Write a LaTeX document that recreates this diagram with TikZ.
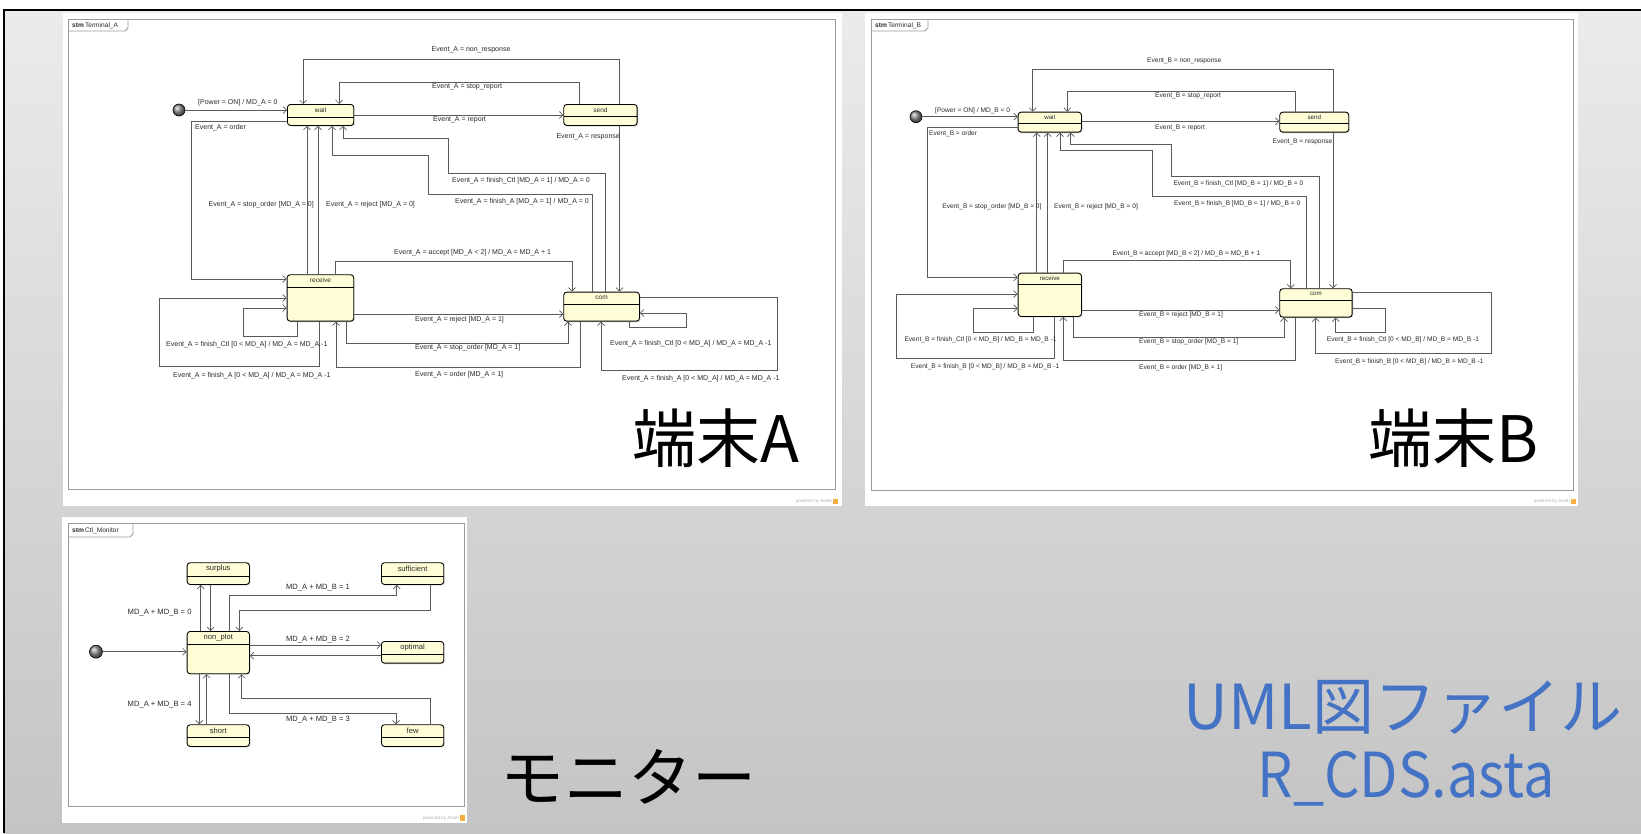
\documentclass[tikz,border=0pt]{standalone}
\usepackage{fontspec}
\setmainfont{Liberation Sans}
\newfontfamily\cjk{Noto Sans CJK JP}
\usetikzlibrary{arrows.meta,shadows}
\definecolor{bgtop}{HTML}{EBEBEB}
\definecolor{bgbot}{HTML}{C4C4C4}
\definecolor{stfill}{HTML}{FFFDD6}
\definecolor{lncol}{HTML}{5A5A5A}
\definecolor{frcol}{HTML}{9A9A9A}
\definecolor{txcol}{HTML}{2A2A2A}
\definecolor{bluet}{HTML}{4472C4}
\definecolor{astahor}{HTML}{F5B041}
\tikzset{
  st/.style={draw=black, line width=0.9pt, rounded corners=3pt, fill=stfill, inner sep=0pt, anchor=north west,
    drop shadow={shadow xshift=1.2pt, shadow yshift=-1.2pt, opacity=0.25}},
  stA/.style={font=\fontsize{6.5}{7}\selectfont, inner sep=0pt, text=txcol},
  stB/.style={font=\fontsize{6.2}{7}\selectfont, inner sep=0pt, text=txcol},
  stC/.style={font=\fontsize{7.6}{8}\selectfont, inner sep=0pt, text=txcol},
  tr/.style={draw=lncol, line width=0.7pt, -{Straight Barb[length=3.5pt,width=7pt]}},
  lbA/.style={font=\fontsize{7}{8}\selectfont, inner sep=0pt, text=txcol},
  lbB/.style={font=\fontsize{6.6}{7.5}\selectfont, inner sep=0pt, text=txcol},
  lbC/.style={font=\fontsize{7.6}{8}\selectfont, inner sep=0pt, text=txcol},
  frame/.style={draw=frcol, line width=0.8pt},
  tab/.style={font=\fontsize{6.6}{7.5}\selectfont, inner sep=0pt, text=txcol, anchor=west},
  pw/.style={font=\fontsize{4.5}{5}\selectfont, inner sep=0pt, text=black!30, anchor=east},
  init/.style={circle, draw=black, line width=0.6pt, shading=ball, ball color=black!45, minimum size=12pt, inner sep=0pt},
  big/.style={font=\cjk\fontsize{64}{70}\selectfont, inner sep=0pt, anchor=base},
  bigblue/.style={font=\cjk\fontsize{62}{68}\selectfont, inner sep=0pt, anchor=base, text=bluet}
}
\newcommand\mkstate[8]{%
  \node[st, minimum width=#4pt, minimum height=#5pt,
    path picture={\draw[line width=0.5pt] ([yshift=-#6pt]path picture bounding box.north west) -- ([yshift=-#6pt]path picture bounding box.north east);}] (#1) at (#2,#3) {};
  \node[#8] (#1-t) at ([yshift={-0.5*#6pt}]#1.north) {#7};
}
\begin{document}
\begin{tikzpicture}[x=1pt, y=-1pt]
\useasboundingbox (0,0) rectangle (1641,833);
% background
\fill[white] (0,0) rectangle (1641,833);
\shade[top color=bgtop, bottom color=bgbot] (4,10) rectangle (1641,833);
\draw[black, line width=2pt] (1641,10) -- (4,10) -- (4,833);

% ---------------- panels ----------------
\fill[white] (63,13) rectangle (842,506);
\draw[frame] (68,19) rectangle (835,489);
\draw[frame] (68,31) -- (125,31) -- (128,28) -- (128,19);
\node[tab] (tabA) at (72,25.5) {\textbf{stm}\,Terminal\_A};
\node[pw] (pwA) at (832,501.5) {powered by Astah};
\fill[astahor] (833,498.5) rectangle (838,504);

\fill[white] (865,13) rectangle (1578,506);
\draw[frame] (871,19) rectangle (1573,490);
\draw[frame] (871,31) -- (925,31) -- (928,28) -- (928,19);
\node[tab] (tabB) at (875,25.5) {\textbf{stm}\,Terminal\_B};
\node[pw] (pwB) at (1570,501.5) {powered by Astah};
\fill[astahor] (1571,498.5) rectangle (1576,504);

\fill[white] (62,517) rectangle (467,823);
\draw[frame] (68,523) rectangle (464,806);
\draw[frame] (68,537) -- (130,537) -- (133,534) -- (133,523);
\node[tab] (tabC) at (72,530.5) {\textbf{stm}\,Ctl\_Monitor};
\node[pw] (pwC) at (459,818) {powered by Astah};
\fill[astahor] (460,815) rectangle (465,820.5);

% ---------------- Terminal A ----------------
\node[init] (iA) at (179,110) {};
\mkstate{waitA}{287}{104}{66.3}{21}{12.5}{wait}{stA}
\mkstate{sendA}{563.3}{104}{73.4}{21}{12}{send}{stA}
\mkstate{recvA}{286.7}{274.3}{66.6}{46.4}{12.4}{receive}{stA}
\mkstate{comA}{563.3}{291.7}{75.7}{29}{11.6}{com}{stA}

\draw[tr] (iA) -- (iA -| waitA.west);
\draw[tr] (waitA.west |- 0,121) -| (191,279) -- (recvA.west |- 0,279);
\draw[tr] (sendA.north -| 619.5,0) |- (303,59) -- (waitA.north -| 303,0);
\draw[tr] (sendA.north -| 579,0) |- (339,82) -- (waitA.north -| 339,0);
\draw[tr] (waitA.east |- 0,115) -- (sendA.west |- 0,115);
\draw[tr] (sendA.south -| 619.5,0) -- (comA.north -| 619.5,0);
\draw[tr] (comA.north -| 605,0) |- (448,173) |- (343,138) -- (waitA.south -| 343,0);
\draw[tr] (comA.north -| 592,0) |- (428,194) |- (332,155) -- (waitA.south -| 332,0);
\draw[tr] (recvA.north -| 307,0) -- (waitA.south -| 307,0);
\draw[tr] (recvA.north -| 318,0) -- (waitA.south -| 318,0);
\draw[tr] (recvA.north -| 335,0) |- (572,261) -- (comA.north -| 572,0);
\draw[tr] (recvA.east |- 0,314) -- (comA.west |- 0,314);
\draw[tr] (recvA.south -| 346,0) |- (568,343) -- (comA.south -| 568,0);
\draw[tr] (comA.south -| 580,0) |- (336,367) -- (recvA.south -| 336,0);
\draw[tr] (recvA.south -| 297,0) |- (243,336) |- (recvA.west |- 0,308);
\draw[tr] (recvA.south -| 319,0) |- (159,366) |- (recvA.west |- 0,298);
\draw[tr] (comA.south -| 629,0) |- (686,327) |- (comA.east |- 0,313);
\draw[tr] (comA.east |- 0,297) -| (777,370) -| (comA.south -| 601,0);

\node[lbA, anchor=west] (lA1) at (198,103) {[Power = ON] / MD\_A = 0};
\node[lbA, anchor=west] (lA2) at (195,128) {Event\_A = order};
\node[lbA] (lA3) at (471,50) {Event\_A = non\_response};
\node[lbA, anchor=west] (lA4) at (432,87) {Event\_A = stop\_report};
\node[lbA, anchor=west] (lA5) at (433,120) {Event\_A = report};
\node[lbA, anchor=east] (lA6) at (620,137) {Event\_A = response};
\node[lbA, anchor=west] (lA7) at (452,181) {Event\_A = finish\_Ctl [MD\_A = 1] / MD\_A = 0};
\node[lbA, anchor=west] (lA8) at (455,202) {Event\_A = finish\_A [MD\_A = 1] / MD\_A = 0};
\node[lbA, anchor=east] (lA9) at (314,205) {Event\_A = stop\_order [MD\_A = 0]};
\node[lbA, anchor=west] (lA10) at (326,205) {Event\_A = reject [MD\_A = 0]};
\node[lbA, anchor=west] (lA11) at (394,253) {Event\_A = accept [MD\_A < 2] / MD\_A = MD\_A + 1};
\node[lbA, anchor=west] (lA12) at (415,320) {Event\_A = reject [MD\_A = 1]};
\node[lbA, anchor=west] (lA13) at (415,347.5) {Event\_A = stop\_order [MD\_A = 1]};
\node[lbA, anchor=west] (lA14) at (415,375) {Event\_A = order [MD\_A = 1]};
\node[lbA, anchor=west] (lA15) at (166,345) {Event\_A = finish\_Ctl [0 < MD\_A] / MD\_A = MD\_A -1};
\node[lbA, anchor=west] (lA16) at (173,376) {Event\_A = finish\_A [0 < MD\_A] / MD\_A = MD\_A -1};
\node[lbA, anchor=west] (lA17) at (610,343.5) {Event\_A = finish\_Ctl [0 < MD\_A] / MD\_A = MD\_A -1};
\node[lbA, anchor=west] (lA18) at (622,379) {Event\_A = finish\_A [0 < MD\_A] / MD\_A = MD\_A -1};

% ---------------- Terminal B ----------------
\node[init] (iB) at (916,116.7) {};
\mkstate{waitB}{1017.7}{111.7}{63.3}{20}{10.6}{wait}{stB}
\mkstate{sendB}{1279.3}{111.7}{69}{20}{11.3}{send}{stB}
\mkstate{recvB}{1017.7}{272.7}{63.3}{43.3}{10.6}{receive}{stB}
\mkstate{comB}{1279.3}{288.3}{72.4}{28.4}{11.7}{com}{stB}

\draw[tr] (iB) -- (iB -| waitB.west);
\draw[tr] (waitB.west |- 0,127.3) -| (927.7,277.3) -- (recvB.west |- 0,277.3);
\draw[tr] (sendB.north -| 1333,0) |- (1032.7,69) -- (waitB.north -| 1032.7,0);
\draw[tr] (sendB.north -| 1295,0) |- (1067.3,91.3) -- (waitB.north -| 1067.3,0);
\draw[tr] (waitB.east |- 0,121.3) -- (sendB.west |- 0,121.3);
\draw[tr] (sendB.south -| 1333,0) -- (comB.north -| 1333,0);
\draw[tr] (comB.north -| 1319,0) |- (1171.7,176.7) |- (1070.7,144) -- (waitB.south -| 1070.7,0);
\draw[tr] (comB.north -| 1306,0) |- (1152.7,196.7) |- (1060,150) -- (waitB.south -| 1060,0);
\draw[tr] (recvB.north -| 1036.7,0) -- (waitB.south -| 1036.7,0);
\draw[tr] (recvB.north -| 1047.7,0) -- (waitB.south -| 1047.7,0);
\draw[tr] (recvB.north -| 1063.3,0) |- (1290.7,260) -- (comB.north -| 1290.7,0);
\draw[tr] (recvB.east |- 0,310) -- (comB.west |- 0,310);
\draw[tr] (recvB.south -| 1073.3,0) |- (1284,337.3) -- (comB.south -| 1284,0);
\draw[tr] (comB.south -| 1295.7,0) |- (1063.3,360.7) -- (recvB.south -| 1063.3,0);
\draw[tr] (recvB.south -| 1033.3,0) |- (973.3,332.7) |- (recvB.west |- 0,308.3);
\draw[tr] (recvB.south -| 1054.3,0) |- (896.7,358.3) |- (recvB.west |- 0,294);
\draw[tr] (comB.east |- 0,308.3) -| (1385.7,332.3) -| (comB.south -| 1335.7,0);
\draw[tr] (comB.east |- 0,292.3) -| (1491,353.3) -| (comB.south -| 1315.7,0);

\node[lbB, anchor=west] (lB1) at (935,110.7) {[Power = ON] / MD\_B = 0};
\node[lbB, anchor=west] (lB2) at (929,133.3) {Event\_B = order};
\node[lbB] (lB3) at (1184.3,60.7) {Event\_B = non\_response};
\node[lbB, anchor=west] (lB4) at (1155,95.7) {Event\_B = stop\_report};
\node[lbB, anchor=west] (lB5) at (1155,128) {Event\_B = report};
\node[lbB, anchor=east] (lB6) at (1332.5,142.3) {Event\_B = response};
\node[lbB, anchor=west] (lB7) at (1173.3,184) {Event\_B = finish\_Ctl [MD\_B = 1] / MD\_B = 0};
\node[lbB, anchor=west] (lB8) at (1174,204) {Event\_B = finish\_B [MD\_B = 1] / MD\_B = 0};
\node[lbB, anchor=east] (lB9) at (1041.7,206.7) {Event\_B = stop\_order [MD\_B = 0]};
\node[lbB, anchor=west] (lB10) at (1054,206.7) {Event\_B = reject [MD\_B = 0]};
\node[lbB, anchor=west] (lB11) at (1112.3,253.3) {Event\_B = accept [MD\_B < 2] / MD\_B = MD\_B + 1};
\node[lbB, anchor=west] (lB12) at (1139,315) {Event\_B = reject [MD\_B = 1]};
\node[lbB, anchor=west] (lB13) at (1139,341.7) {Event\_B = stop\_order [MD\_B = 1]};
\node[lbB, anchor=west] (lB14) at (1139,367.3) {Event\_B = order [MD\_B = 1]};
\node[lbB, anchor=west] (lB15) at (904.3,340) {Event\_B = finish\_Ctl [0 < MD\_B] / MD\_B = MD\_B -1};
\node[lbB, anchor=west] (lB16) at (910.7,366.7) {Event\_B = finish\_B [0 < MD\_B] / MD\_B = MD\_B -1};
\node[lbB, anchor=west] (lB17) at (1326.7,340) {Event\_B = finish\_Ctl [0 < MD\_B] / MD\_B = MD\_B -1};
\node[lbB, anchor=west] (lB18) at (1335,361.7) {Event\_B = finish\_B [0 < MD\_B] / MD\_B = MD\_B -1};

% ---------------- Ctl_Monitor ----------------
\node[init, minimum size=13pt] (iC) at (96,651.7) {};
\mkstate{nonplot}{186.7}{631}{62.3}{42.3}{13}{non\_plot}{stC}
\mkstate{surplus}{186.7}{562.3}{62.3}{21.7}{13.4}{surplus}{stC}
\mkstate{sufficient}{381}{562.3}{62.3}{21.7}{13.4}{sufficient}{stC}
\mkstate{optimal}{381}{641}{62.3}{21.7}{12.3}{optimal}{stC}
\mkstate{short}{186.7}{724.3}{62.3}{21.7}{12.4}{short}{stC}
\mkstate{few}{381}{724.3}{62.3}{21.7}{12.4}{few}{stC}

\draw[tr] (iC) -- (iC -| nonplot.west);
\draw[tr] (nonplot.north -| 200.7,0) -- (surplus.south -| 200.7,0);
\draw[tr] (surplus.south -| 210.7,0) -- (nonplot.north -| 210.7,0);
\draw[tr] (nonplot.north -| 229,0) |- (396.7,595) -- (sufficient.south -| 396.7,0);
\draw[tr] (sufficient.south -| 430,0) |- (239.3,610) -- (nonplot.north -| 239.3,0);
\draw[tr] (nonplot.east |- 0,645) -- (optimal.west |- 0,645);
\draw[tr] (optimal.west |- 0,655.7) -- (nonplot.east |- 0,655.7);
\draw[tr] (nonplot.south -| 199.3,0) -- (short.north -| 199.3,0);
\draw[tr] (short.north -| 206.7,0) -- (nonplot.south -| 206.7,0);
\draw[tr] (nonplot.south -| 229,0) |- (396,713.3) -- (few.north -| 396,0);
\draw[tr] (few.north -| 430,0) |- (241.7,698.3) -- (nonplot.south -| 241.7,0);

\node[lbC, anchor=east] (lC1) at (191.7,612.7) {MD\_A + MD\_B = 0};
\node[lbC] (lC2) at (318,587.7) {MD\_A + MD\_B = 1};
\node[lbC] (lC3) at (318,639.3) {MD\_A + MD\_B = 2};
\node[lbC, anchor=east] (lC4) at (191.7,704.3) {MD\_A + MD\_B = 4};
\node[lbC] (lC5) at (318,719.3) {MD\_A + MD\_B = 3};

% ---------------- big texts ----------------
\node[big] (tA) at (716,462) {端末A};
\node[big] (tB) at (1454,462) {端末B};
\node[big] (tC) at (628,801) {モニター};
\node[bigblue] (tD) at (1403,729) {UML図ファイル};
\node[bigblue] (tE) at (1406,797) {\scalebox{0.9}[1]{R\_CDS.asta}};
\end{tikzpicture}
\end{document}
